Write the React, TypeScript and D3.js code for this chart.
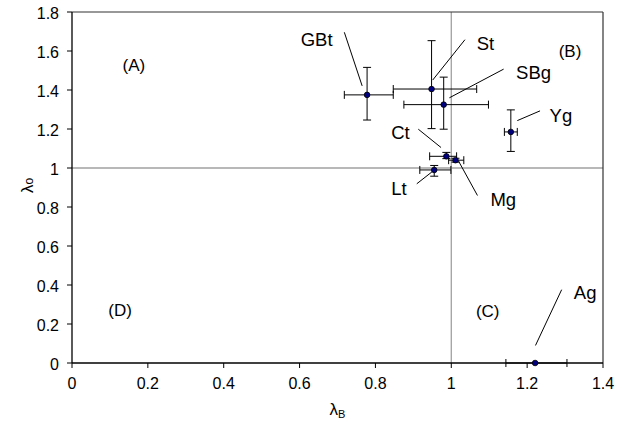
import React from "react";
import * as d3 from "d3";

const W = 622;
const H = 422;
const margin = { left: 72, top: 12, right: 19, bottom: 59 };

// Data
const names = ["GBt", "St", "SBg", "Yg", "Ct", "Mg", "Lt", "Ag"];
const lambdaB = [0.778, 0.948, 0.98, 1.157, 0.987, 1.011, 0.955, 1.221];
const lambdaO = [1.375, 1.405, 1.325, 1.185, 1.06, 1.04, 0.99, 0.0];
const xErrLow = [0.718, 0.847, 0.875, 1.14, 0.943, 0.993, 0.917, 1.144];
const xErrHigh = [0.847, 1.067, 1.098, 1.174, 1.014, 1.033, 0.999, 1.305];
const yErrLow = [1.246, 1.202, 1.199, 1.085, 1.048, 1.03, 0.958, 0.0];
const yErrHigh = [1.516, 1.653, 1.466, 1.298, 1.08, 1.05, 1.013, 0.0];

// label positions in data units: text centre x,y ; leader line from (x1,y1) to (x2,y2)
const labelTextX = [0.645, 1.09, 1.217, 1.289, 0.866, 1.137, 0.862, 1.353];
const labelTextY = [1.66, 1.636, 1.49, 1.267, 1.181, 0.838, 0.895, 0.359];
const leadX1 = [0.718, 1.036, 1.138, 1.234, 0.913, 1.019, 0.909, 1.291];
const leadY1 = [1.696, 1.658, 1.507, 1.293, 1.199, 1.036, 0.919, 0.376];
const leadX2 = [0.765, 0.951, 0.995, 1.174, 0.973, 1.069, 0.949, 1.222];
const leadY2 = [1.421, 1.451, 1.36, 1.243, 1.105, 0.859, 0.98, 0.09];

const regionNames = ["(A)", "(B)", "(C)", "(D)"];
const regionX = [0.163, 1.313, 1.096, 0.127];
const regionY = [1.5, 1.571, 0.238, 0.24];

const xTicks = [0, 0.2, 0.4, 0.6, 0.8, 1, 1.2, 1.4];
const yTicks = [0, 0.2, 0.4, 0.6, 0.8, 1, 1.2, 1.4, 1.6, 1.8];

export default function App() {
  const x = d3.scaleLinear().domain([0, 1.4]).range([margin.left, W - margin.right]);
  const y = d3.scaleLinear().domain([0, 1.8]).range([H - margin.bottom, margin.top]);
  const font = "Liberation Sans, Arial, sans-serif";
  const cap = 4;
  const x0 = x(0), x1 = x(1.4), y0 = y(0), y1 = y(1.8);

  return (
    <svg width={W} height={H} style={{ position: "absolute", left: 0, top: 0 }} fontFamily={font}>
      <rect x={0} y={0} width={W} height={H} fill="#fff" />
      {/* reference lines */}
      <line x1={x0} x2={x1} y1={y(1)} y2={y(1)} stroke="#a0a0a0" strokeWidth={1.3} />
      <line x1={x(1)} x2={x(1)} y1={y0} y2={y1} stroke="#a0a0a0" strokeWidth={1.3} />
      {/* frame */}
      <line x1={x0} x2={x1} y1={y1} y2={y1} stroke="#333" strokeWidth={1.2} />
      <line x1={x1} x2={x1} y1={y1} y2={y0} stroke="#333" strokeWidth={1.2} />
      <line x1={x0} x2={x1} y1={y0} y2={y0} stroke="#000" strokeWidth={1.3} />
      <line x1={x0} x2={x0} y1={y1} y2={y0} stroke="#000" strokeWidth={1.3} />
      {/* x ticks */}
      {xTicks.map((t) => (
        <g key={"xt" + t}>
          <line x1={x(t)} x2={x(t)} y1={y0} y2={y0 + 5} stroke="#000" />
          <text x={x(t)} y={y0 + 26} fontSize={16} textAnchor="middle">{String(t)}</text>
        </g>
      ))}
      {yTicks.map((t) => (
        <g key={"yt" + t}>
          <line x1={x0 - 5} x2={x0} y1={y(t)} y2={y(t)} stroke="#000" />
          <text x={x0 - 13} y={y(t) + 6.5} fontSize={16} textAnchor="end">{String(t)}</text>
        </g>
      ))}
      {/* axis titles */}
      <text x={(x0 + x1) / 2} y={H - 7} fontSize={17} textAnchor="middle">
        λ<tspan fontSize={11} dy={3}>B</tspan>
      </text>
      <text transform={`translate(33,${(y0 + y1) / 2 - 2}) rotate(-90)`} fontSize={17} textAnchor="middle">
        λ<tspan fontSize={12}>o</tspan>
      </text>
      {/* region labels */}
      {regionNames.map((r, i) => (
        <text key={r} x={x(regionX[i])} y={y(regionY[i])} fontSize={17} textAnchor="middle">{r}</text>
      ))}
      {/* leader lines */}
      {names.map((n, i) => (
        <line key={"ld" + n} x1={x(leadX1[i])} y1={y(leadY1[i])} x2={x(leadX2[i])} y2={y(leadY2[i])} stroke="#000" strokeWidth={1} />
      ))}
      {/* error bars */}
      {names.map((n, i) => (
        <g key={"eb" + n} stroke="#000" strokeWidth={1}>
          <line x1={x(xErrLow[i])} x2={x(xErrHigh[i])} y1={y(lambdaO[i])} y2={y(lambdaO[i])} />
          <line x1={x(xErrLow[i])} x2={x(xErrLow[i])} y1={y(lambdaO[i]) - cap} y2={y(lambdaO[i]) + cap} />
          <line x1={x(xErrHigh[i])} x2={x(xErrHigh[i])} y1={y(lambdaO[i]) - cap} y2={y(lambdaO[i]) + cap} />
          {yErrHigh[i] > yErrLow[i] && (
            <>
              <line x1={x(lambdaB[i])} x2={x(lambdaB[i])} y1={y(yErrLow[i])} y2={y(yErrHigh[i])} />
              <line x1={x(lambdaB[i]) - cap} x2={x(lambdaB[i]) + cap} y1={y(yErrLow[i])} y2={y(yErrLow[i])} />
              <line x1={x(lambdaB[i]) - cap} x2={x(lambdaB[i]) + cap} y1={y(yErrHigh[i])} y2={y(yErrHigh[i])} />
            </>
          )}
        </g>
      ))}
      {/* points */}
      {names.map((n, i) => (
        <circle key={"pt" + n} cx={x(lambdaB[i])} cy={y(lambdaO[i])} r={2.8} fill="#000080" stroke="#000" strokeWidth={0.8} />
      ))}
      {/* point labels */}
      {names.map((n, i) => (
        <text key={"lb" + n} x={x(labelTextX[i])} y={y(labelTextY[i])} fontSize={18.5} textAnchor="middle" dominantBaseline="central">{n}</text>
      ))}
    </svg>
  );
}
